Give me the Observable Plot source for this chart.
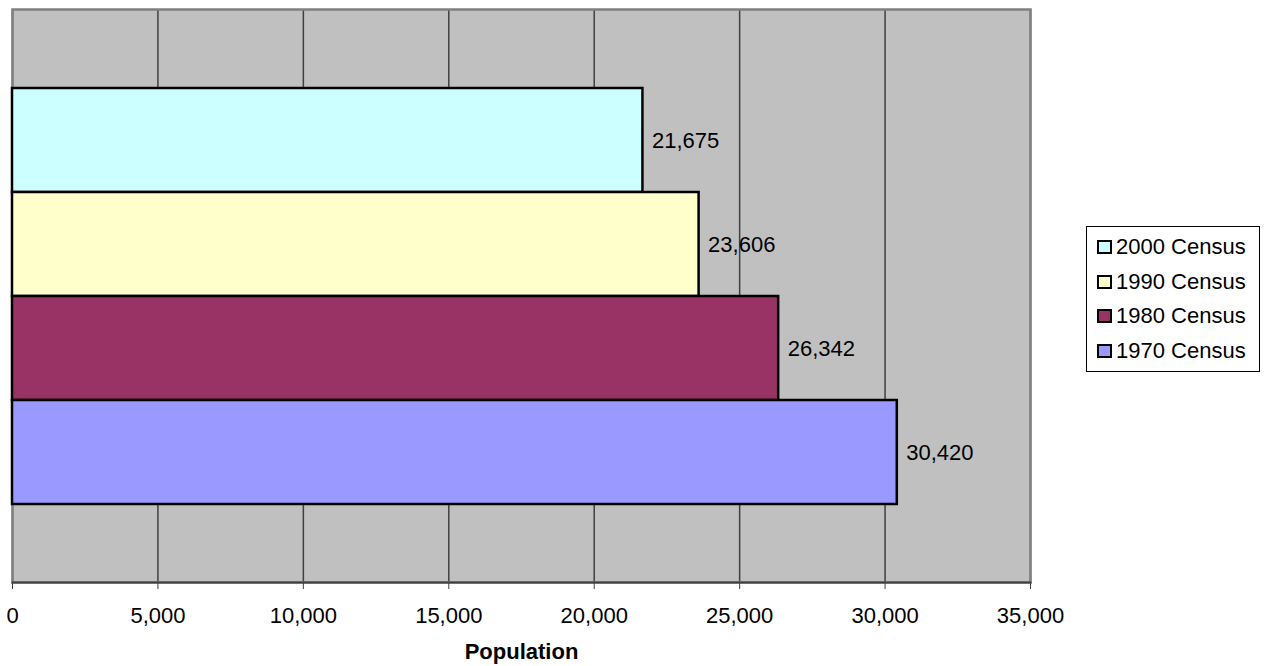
<!DOCTYPE html>
<html>
<head>
<meta charset="utf-8">
<script src="https://cdn.jsdelivr.net/npm/d3@7"></script>
<script src="https://cdn.jsdelivr.net/npm/@observablehq/plot@0.6"></script>
<style>
  html, body { margin: 0; padding: 0; background: #fff; }
  #wrap { position: relative; width: 1266px; height: 666px; font-family: "Liberation Sans", Arial, sans-serif; }
  #wrap svg { position: absolute; left: 0; top: 0; }
  [aria-label="x-axis label"] text { font-weight: bold; }
  #legend { position: absolute; left: 1086px; top: 226px; width: 174px; border: 1px solid #000; background: #fff;
            padding: 3px 0 3px 10px; box-sizing: border-box; font-size: 22px; color: #000; }
  #legend .row { display: flex; align-items: center; height: 34.5px; }
  #legend .sw { width: 15px; height: 14px; box-sizing: border-box; border: 2px solid #000; margin-right: 4px; }
</style>
</head>
<body>
<div id="wrap"></div>
<script>
const series = ["2000 Census", "1990 Census", "1980 Census", "1970 Census"];
const values = [21675, 23606, 26342, 30420];
const colors = ["#CCFFFF", "#FFFFCC", "#993366", "#9999FF"];
const xTicks = [0, 5000, 10000, 15000, 20000, 25000, 30000, 35000];
const xLabel = "Population";

const data = series.map((s, i) => ({series: s, value: values[i]}));
const fmt = d3.format(",");

const chart = Plot.plot({
  width: 1266,
  height: 666,
  marginLeft: 12,
  marginRight: 236,
  marginTop: 9,
  marginBottom: 84,
  style: {fontFamily: "'Liberation Sans', Arial, sans-serif", fontSize: "22px", background: "transparent", color: "#000"},
  x: {domain: [0, 35000]},
  y: {domain: series, paddingInner: 0, paddingOuter: 0.748, axis: null},
  color: {domain: series, range: colors},
  marks: [
    Plot.frame({fill: "#c0c0c0", stroke: "none"}),
    Plot.gridX(xTicks, {stroke: "#404040", strokeOpacity: 1, strokeWidth: 1.5}),
    Plot.frame({stroke: "#808080", strokeWidth: 2.5}),
    Plot.barX(data, {x: "value", y: "series", fill: "series", stroke: "#000", strokeWidth: 2.5, insetTop: 0, insetBottom: 0}),
    Plot.text(data, {x: "value", y: "series", text: d => fmt(d.value), textAnchor: "start", dx: 9, fontSize: 22, fill: "#000"}),
    Plot.frame({anchor: "bottom", stroke: "#404040", strokeWidth: 2}),
    Plot.axisX(xTicks, {tickSize: 7, tickPadding: 18, tickFormat: fmt, fontSize: 22, stroke: "#404040",
      label: xLabel, labelAnchor: "center", labelArrow: "none", labelOffset: 76})
  ]
});

const wrap = document.getElementById("wrap");
wrap.appendChild(chart);

const legend = document.createElement("div");
legend.id = "legend";
series.forEach((s, i) => {
  const row = document.createElement("div");
  row.className = "row";
  const sw = document.createElement("div");
  sw.className = "sw";
  sw.style.background = colors[i];
  const t = document.createElement("span");
  t.textContent = s;
  row.appendChild(sw);
  row.appendChild(t);
  legend.appendChild(row);
});
wrap.appendChild(legend);
</script>
</body>
</html>
